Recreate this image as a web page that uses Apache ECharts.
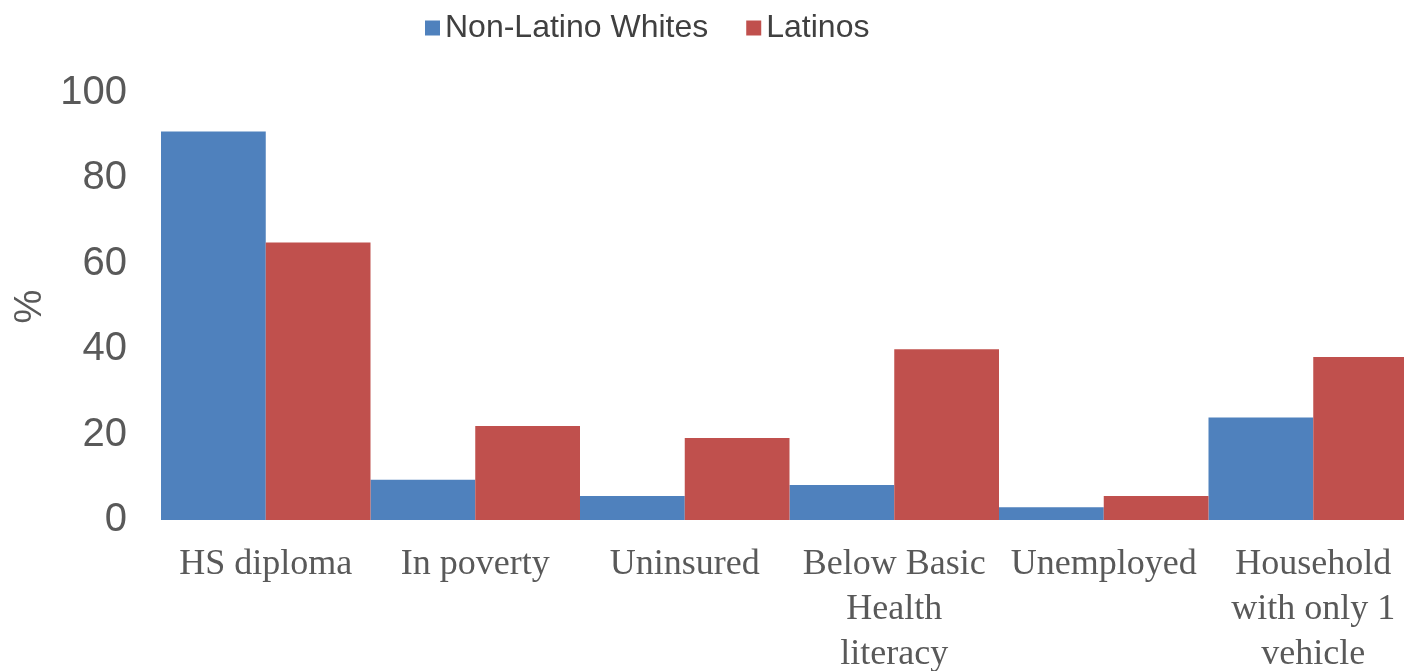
<!DOCTYPE html>
<html><head><meta charset="utf-8">
<script src="https://cdn.jsdelivr.net/npm/echarts@6/dist/echarts.min.js"></script>
<style>html,body{margin:0;padding:0;background:#fff}#c{width:1404px;height:671px}</style>
</head><body><div id="c"></div>
<script>
const categories = ["HS diploma", "In poverty", "Uninsured", "Below Basic\nHealth\nliteracy", "Unemployed", "Household\nwith only 1\nvehicle"];
const nonLatinoWhites = [91, 9.4, 5.6, 8.2, 3, 24];
const latinos = [65, 22, 19.2, 40, 5.6, 38.2];
const yTicks = [0, 20, 40, 60, 80, 100];

const chart = echarts.init(document.getElementById('c'));
chart.setOption({
  animation: false,
  backgroundColor: '#fff',
  legend: {
    left: 420, top: 7,
    itemWidth: 15, itemHeight: 15, itemGap: 38,
    icon: 'rect',
    textStyle: { fontFamily: "'Liberation Sans', Arial", fontSize: 32, color: '#404040' },
    data: ['Non-Latino Whites', 'Latinos']
  },
  grid: { left: 161, right: -14, top: 93, bottom: 151, containLabel: false, outerBoundsMode: 'none' },
  xAxis: {
    type: 'category', data: categories,
    axisLine: { show: false }, axisTick: { show: false },
    axisLabel: { interval: 0, margin: 22, fontFamily: "'Liberation Serif', 'Times New Roman', serif", fontSize: 36, lineHeight: 45, color: '#595959' }
  },
  yAxis: {
    type: 'value', min: yTicks[0], max: yTicks[yTicks.length - 1], interval: 20,
    name: '%', nameLocation: 'middle', nameGap: 108, nameRotate: 90,
    nameTextStyle: { fontFamily: "'Liberation Sans', Arial", fontSize: 38, color: '#595959' },
    splitLine: { show: false }, axisLine: { show: false }, axisTick: { show: false },
    axisLabel: { margin: 34, fontFamily: "'Liberation Sans', Arial", fontSize: 40, color: '#595959' }
  },
  series: [
    { name: 'Non-Latino Whites', type: 'bar', data: nonLatinoWhites, barGap: '0%', barCategoryGap: '0%', itemStyle: { color: '#4F81BD' } },
    { name: 'Latinos', type: 'bar', data: latinos, barGap: '0%', barCategoryGap: '0%', itemStyle: { color: '#C0504D' } }
  ]
});
</script></body></html>
